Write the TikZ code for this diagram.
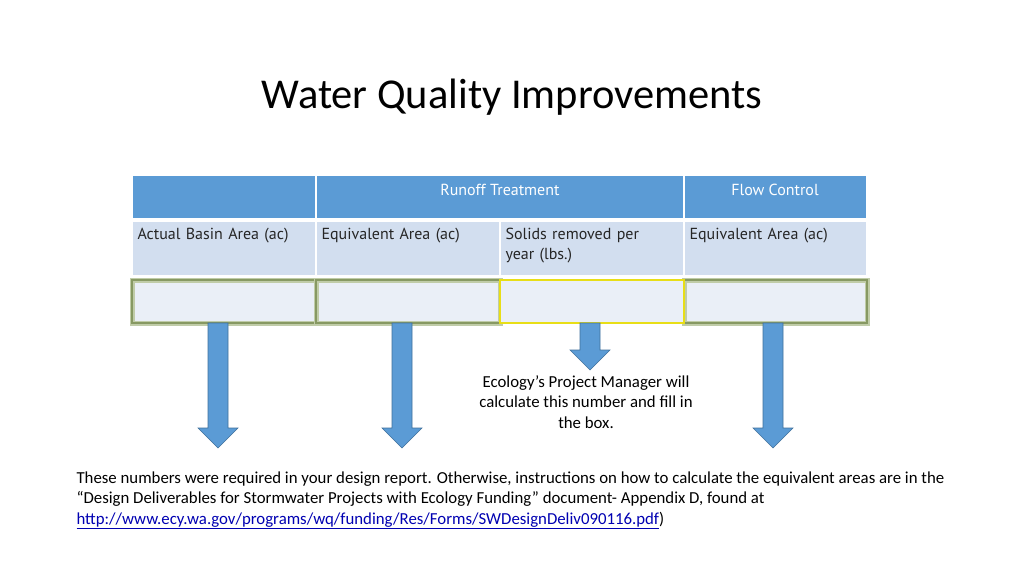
\documentclass[tikz,border=0pt]{standalone}
\usepackage{fontspec}
\setmainfont{Carlito}
\newfontfamily\tabfont{PT Sans}
\usetikzlibrary{positioning}
\definecolor{hdblue}{RGB}{91,155,213}
\definecolor{rowblue}{RGB}{210,222,239}
\definecolor{rowlight}{RGB}{234,239,247}
\definecolor{arrblue}{RGB}{91,155,213}
\definecolor{arredge}{RGB}{65,113,156}
\definecolor{glow}{RGB}{150,170,110}
\tikzset{
  hdcell/.style={fill=hdblue,draw=white,line width=1.5pt},
  subcell/.style={fill=rowblue,draw=white,line width=1.5pt},
  emptycell/.style={fill=rowlight,draw=glow!60,line width=5pt,
    postaction={draw=glow!90!black,line width=1.2pt}},
  hdtext/.style={text=white,font=\tabfont\fontsize{16}{18}\selectfont},
  celltext/.style={anchor=north west,align=left,text width=175pt,font=\tabfont\fontsize{16}{20}\selectfont,text=black!85},
  bodytext/.style={font=\fontsize{16.8}{20.5}\selectfont,align=left}
}
\newcommand{\blockarrow}[3]{
  \fill[arrblue,draw=arredge,line width=0.6pt] (#1-10,#2) -- (#1+10,#2) -- (#1+10,#3-20) -- (#1+20,#3-20) -- (#1,#3) -- (#1-20,#3-20) -- (#1-10,#3-20) -- cycle;
}
\begin{document}
\begin{tikzpicture}[x=1pt,y=-1pt]
  \useasboundingbox[fill=white] (0,0) rectangle (1024,576);
  \node (title) at (512,97) {\fontsize{42.5}{46}\selectfont Water Quality Improvements};
  % header row
  \draw[hdcell] (132,175) rectangle (316,219);
  \draw[hdcell] (316,175) rectangle (684,219);
  \draw[hdcell] (684,175) rectangle (867,219);
  \node[hdtext] (runoff) at (500,190) {Runoff Treatment};
  \node[hdtext] (flow) at (775,190) {Flow Control};
  % second row
  \foreach \a/\b in {132/316,316/500,500/684,684/867}
    \draw[subcell] (\a,221) rectangle (\b,276);
  \node[celltext] (basin) at (134,225) {Actual Basin Area (ac)};
  \node[celltext] (eqrt) at (318,225) {Equivalent Area (ac)};
  \node[celltext] (solids) at (502,225) {Solids removed per\\year (lbs.)};
  \node[celltext] (eqfc) at (686,225) {Equivalent Area (ac)};
  % empty row
  \foreach \a/\b in {132/316,316/500,684/867}
    \draw[emptycell] (\a,280) rectangle (\b,323);
  \draw[fill=rowlight,draw=yellow!90!black,line width=1.5pt] (500,280) rectangle (684,323);
  % arrows
  \blockarrow{218}{323}{448}
  \blockarrow{402}{323}{448}
  \blockarrow{590}{323}{370}
  \blockarrow{773}{323}{448}
  \node[bodytext,align=center] (note) at (586,402) {Ecology’s Project Manager will\\calculate this number and fill in\\the box.};
  \node[bodytext,anchor=north west] (para) at (73,468) {These numbers were required in your design report. Otherwise, instructions on how to calculate the equivalent areas are in the\\“Design Deliverables for Stormwater Projects with Ecology Funding” document- Appendix D, found at\\\textcolor{blue!70!black}{\underline{http://www.ecy.wa.gov/programs/wq/funding/Res/Forms/SWDesignDeliv090116.pdf}})};
\end{tikzpicture}
\end{document}
